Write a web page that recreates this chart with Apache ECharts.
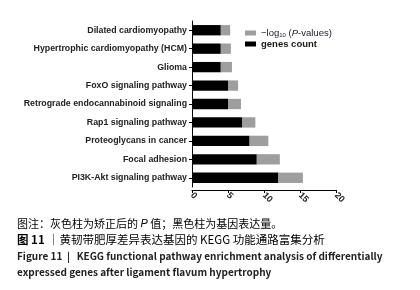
<!DOCTYPE html>
<html>
<head>
<meta charset="utf-8">
<script src="https://cdn.jsdelivr.net/npm/echarts@6/dist/echarts.min.js"></script>
<style>
html, body { margin: 0; padding: 0; background: #fff; }
#mychart { width: 420px; height: 290px; }
</style>
</head>
<body>
<div id="mychart"></div>
<script>
// pathways, top to bottom
var pathways = [
    'Dilated cardiomyopathy',
    'Hypertrophic cardiomyopathy (HCM)',
    'Glioma',
    'FoxO signaling pathway',
    'Retrograde endocannabinoid signaling',
    'Rap1 signaling pathway',
    'Proteoglycans in cancer',
    'Focal adhesion',
    'PI3K-Akt signaling pathway'
];
var genesCount = [4, 4, 4, 5, 5, 7, 8, 9, 12];
var logP = [1.3, 1.4, 1.55, 1.4, 1.8, 1.8, 2.6, 3.2, 3.4];
var xTicks = [0, 5, 10, 15, 20];

var pName = '−log10 (P-values)';
var gName = 'genes count';

var myChart = echarts.init(document.getElementById('mychart'));
myChart.setOption({
    animation: false,
    legend: {
        data: [pName, gName],
        orient: 'vertical',
        left: 240,
        top: 23,
        itemWidth: 11,
        itemHeight: 5,
        itemGap: 1,
        icon: 'rect',
        formatter: function (name) {
            if (name == pName) {
                return '{t|−log}{sub|10}{t| (}{it|P}{t|-values)}';
            }
            return '{b|' + name + '}';
        },
        textStyle: {
            fontFamily: 'Liberation Sans',
            fontSize: 9.5,
            color: '#222',
            rich: {
                t: { fontSize: 9.5, fontFamily: 'Liberation Sans', color: '#1a1a2a' },
                b: { fontSize: 9.5, fontFamily: 'Liberation Sans', fontWeight: 'bold', color: '#1a1a1a' },
                sub: { fontSize: 6, fontFamily: 'Liberation Sans', color: '#1a1a2a', verticalAlign: 'bottom', padding: [4, 0, 0, 0] },
                it: { fontSize: 9.5, fontFamily: 'Liberation Sans', fontStyle: 'italic', color: '#1a1a2a' }
            }
        }
    },
    grid: {
        left: 192,
        top: 21,
        width: 144,
        height: 166
    },
    xAxis: {
        type: 'value',
        min: 0,
        max: 20,
        interval: 5,
        offset: 3,
        splitLine: { show: false },
        axisLine: { show: true, lineStyle: { color: '#000', width: 1 } },
        axisTick: { show: true, length: 3, lineStyle: { color: '#000' } },
        axisLabel: {
            rotate: -45,
            margin: 4,
            fontFamily: 'Liberation Sans',
            fontWeight: 'bold',
            fontSize: 9,
            color: '#222',
            formatter: function (v) {
                return xTicks.indexOf(v) >= 0 ? String(v) : '';
            }
        }
    },
    yAxis: {
        type: 'category',
        inverse: true,
        data: pathways,
        axisLine: { show: true, lineStyle: { color: '#000', width: 1 } },
        axisTick: { show: true, length: 3, alignWithLabel: true, lineStyle: { color: '#000' } },
        axisLabel: {
            margin: 5,
            fontFamily: 'Liberation Sans',
            fontWeight: 'bold',
            fontSize: 8.8,
            color: '#222'
        }
    },
    series: [
        {
            name: gName,
            type: 'bar',
            stack: 'all',
            barWidth: '56%',
            itemStyle: { color: '#000' },
            data: genesCount
        },
        {
            name: pName,
            type: 'bar',
            stack: 'all',
            itemStyle: { color: '#9e9e9e' },
            data: logP
        }
    ],
    graphic: [
        {
            type: 'text', left: 17, top: 218,
            style: {
                text: '{n|图注：灰色柱为矫正后的 }{i|P}{n| 值；黑色柱为基因表达量。}',
                rich: {
                    n: { fontSize: 11, fontFamily: 'Noto Sans CJK SC', color: '#444' },
                    i: { fontSize: 11, fontFamily: 'Liberation Sans', fontStyle: 'italic', color: '#444' }
                }
            }
        },
        {
            type: 'text', left: 17, top: 234,
            style: {
                text: '{b|图 11} {n|｜黄韧带肥厚差异表达基因的 KEGG 功能通路富集分析}',
                rich: {
                    b: { fontSize: 11.5, fontFamily: 'Noto Sans CJK SC', fontWeight: 'bold', color: '#222' },
                    n: { fontSize: 11.5, fontFamily: 'Noto Sans CJK SC', color: '#222' }
                }
            }
        },
        {
            type: 'text', left: 17, top: 251,
            style: {
                text: 'Figure 11  |   KEGG functional pathway enrichment analysis of differentially',
                font: 'bold 10px "Noto Sans CJK SC"',
                fill: '#222'
            }
        },
        {
            type: 'text', left: 17, top: 267,
            style: {
                text: 'expressed genes after ligament flavum hypertrophy',
                font: 'bold 10px "Noto Sans CJK SC"',
                fill: '#222'
            }
        }
    ]
});
</script>
</body>
</html>
